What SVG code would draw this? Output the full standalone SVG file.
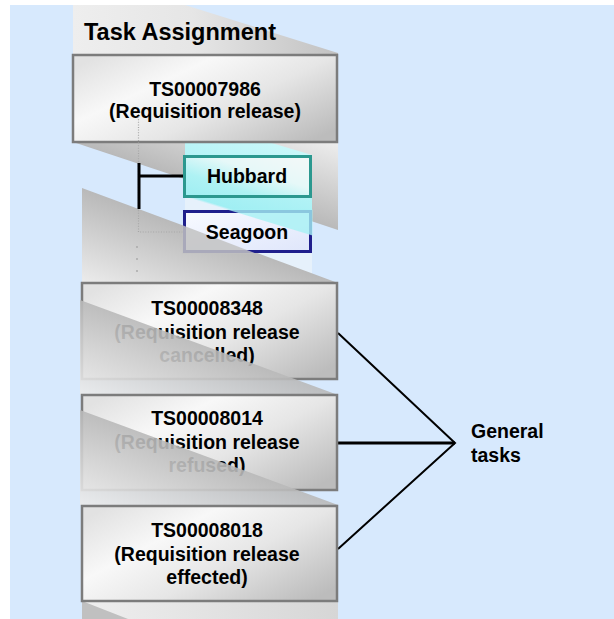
<svg xmlns="http://www.w3.org/2000/svg" width="614" height="619" viewBox="0 0 614 619">
<style>
  .t { font-family: "Liberation Sans", Arial, sans-serif; font-weight: bold; fill: #000; }
  .lbl { font-size: 19.5px; text-anchor: middle; }
  .box { fill: url(#boxGrad); stroke: #7c7c7c; stroke-width: 2.5; }
  .ov { fill: url(#bandGrad); opacity: 0.9; }
  .link { fill: none; stroke: #000; stroke-linecap: butt; }
  .dot { fill: none; stroke: #a6a6a6; stroke-width: 1.2; stroke-dasharray: 1 1.6; }
</style>
<defs>
  <linearGradient id="boxGrad" x1="0" y1="0.15" x2="1" y2="0.85">
    <stop offset="0" stop-color="#e2e2e2"/>
    <stop offset="0.3" stop-color="#f8f8f8"/>
    <stop offset="0.6" stop-color="#e6e6e6"/>
    <stop offset="1" stop-color="#bcbcbc"/>
  </linearGradient>
  <linearGradient id="topGrad" x1="0" y1="0" x2="1" y2="0">
    <stop offset="0" stop-color="#eeeeee"/>
    <stop offset="0.45" stop-color="#e6e6e6"/>
    <stop offset="1" stop-color="#c2c2c2"/>
  </linearGradient>
  <linearGradient id="band1Grad" x1="0.5" y1="0.5" x2="1" y2="0">
    <stop offset="0" stop-color="#b9b9b9"/>
    <stop offset="1" stop-color="#eeeeee"/>
  </linearGradient>
  <linearGradient id="bandGrad" x1="0.5" y1="0.5" x2="0" y2="1">
    <stop offset="0" stop-color="#b9b9b9"/>
    <stop offset="1" stop-color="#ececec"/>
  </linearGradient>
  <linearGradient id="cyanGrad" gradientUnits="userSpaceOnUse" x1="185" y1="117" x2="162.5" y2="190">
    <stop offset="0" stop-color="#c8f7f9"/>
    <stop offset="0.97" stop-color="#a0eff3"/>
    <stop offset="1" stop-color="#e6f1fb"/>
  </linearGradient>
  <linearGradient id="hubGrad" x1="1" y1="0" x2="0" y2="1">
    <stop offset="0" stop-color="#f4f8f8"/>
    <stop offset="0.4" stop-color="#e6f8f8"/>
    <stop offset="0.7" stop-color="#aef2f4"/>
    <stop offset="1" stop-color="#9eeef2"/>
  </linearGradient>
  <linearGradient id="seaGrad" x1="0" y1="0" x2="1" y2="1">
    <stop offset="0" stop-color="#f8faff"/>
    <stop offset="1" stop-color="#dfe6fb"/>
  </linearGradient>
  <linearGradient id="botGrad" x1="0" y1="0" x2="1" y2="0">
    <stop offset="0" stop-color="#efefef"/>
    <stop offset="1" stop-color="#d6d6d6"/>
  </linearGradient>
</defs>

<!-- background -->
<rect x="10" y="5" width="604" height="614" fill="#d7e9fd"/>

<!-- decorative bands -->
<polygon points="73,5 185,5 338,53 338,56 73,56" fill="url(#topGrad)"/>
<polygon points="73,142 338,142 338,230" fill="url(#band1Grad)"/>
<polygon points="185,117 312,155 312,283 185,283" fill="url(#cyanGrad)"/>
<polygon points="82,188 338,283 82,283" fill="url(#bandGrad)"/>
<rect x="82" y="601" width="256" height="18" fill="url(#botGrad)"/>
<polygon points="82,601 128,619 82,619" fill="#c0c0c0"/>

<text class="t" x="84" y="40" font-size="23.5">Task Assignment</text>

<g id="ts7986">
  <rect class="box" x="73" y="55" width="264" height="87"/>
  <text class="t lbl" x="205" y="96">TS00007986</text>
  <text class="t lbl" x="205" y="118">(Requisition release)</text>
</g>

<g id="connectors">
  <path class="dot" d="M138.5,114 V232 H185 V252 H250"/>
  <g fill="#a6a6a6">
    <circle cx="137" cy="247" r="0.9"/>
    <circle cx="137" cy="259" r="0.9"/>
    <circle cx="137" cy="271" r="0.9"/>
  </g>
  <path class="link" stroke-width="3" d="M139,163 V209 M139,176 H184"/>
  <path d="M184,176 H193" stroke="#a9a9a9" stroke-width="3" fill="none"/>
  <path class="link" stroke-width="2" d="M338,333 L455,443 L338,549"/>
  <path class="link" stroke-width="3.2" d="M338,443 H455"/>
</g>

<g id="hubbard">
  <rect x="184.5" y="156.5" width="126" height="40" fill="url(#hubGrad)" stroke="#2b988f" stroke-width="3"/>
  <text class="t lbl" x="247" y="183">Hubbard</text>
</g>

<g id="seagoon">
  <rect x="184.5" y="211.5" width="126" height="40" fill="url(#seaGrad)" stroke="#1f1f8c" stroke-width="3"/>
  <polygon points="227,209.5 312.5,209.5 312.5,235.5" fill="#a6f1f4" opacity="0.8"/>
  <polygon points="182.5,225.3 256,253.5 182.5,253.5" fill="#c2c2c2" opacity="0.85"/>
  <text class="t lbl" x="247" y="239">Seagoon</text>
</g>

<g id="ts8348">
  <rect class="box" x="82" y="283" width="255" height="96"/>
  <text class="t lbl" x="207" y="315">TS00008348</text>
  <text class="t lbl" x="207" y="338.5">(Requisition release</text>
  <text class="t lbl" x="207" y="362">cancelled)</text>
  <polygon class="ov" points="80,300 338,395 80,395"/>
</g>

<g id="ts8014">
  <rect class="box" x="82" y="395" width="255" height="95"/>
  <text class="t lbl" x="207" y="425">TS00008014</text>
  <text class="t lbl" x="207" y="448.5">(Requisition release</text>
  <text class="t lbl" x="207" y="472">refused)</text>
  <polygon class="ov" points="80,410 338,505 80,505"/>
</g>

<g id="ts8018">
  <rect class="box" x="82" y="506" width="255" height="95"/>
  <text class="t lbl" x="207" y="537">TS00008018</text>
  <text class="t lbl" x="207" y="560.5">(Requisition release</text>
  <text class="t lbl" x="207" y="584">effected)</text>
</g>

<g id="general">
  <text class="t" x="471" y="438" font-size="19.5">General</text>
  <text class="t" x="471" y="462" font-size="19.5">tasks</text>
</g>
</svg>
